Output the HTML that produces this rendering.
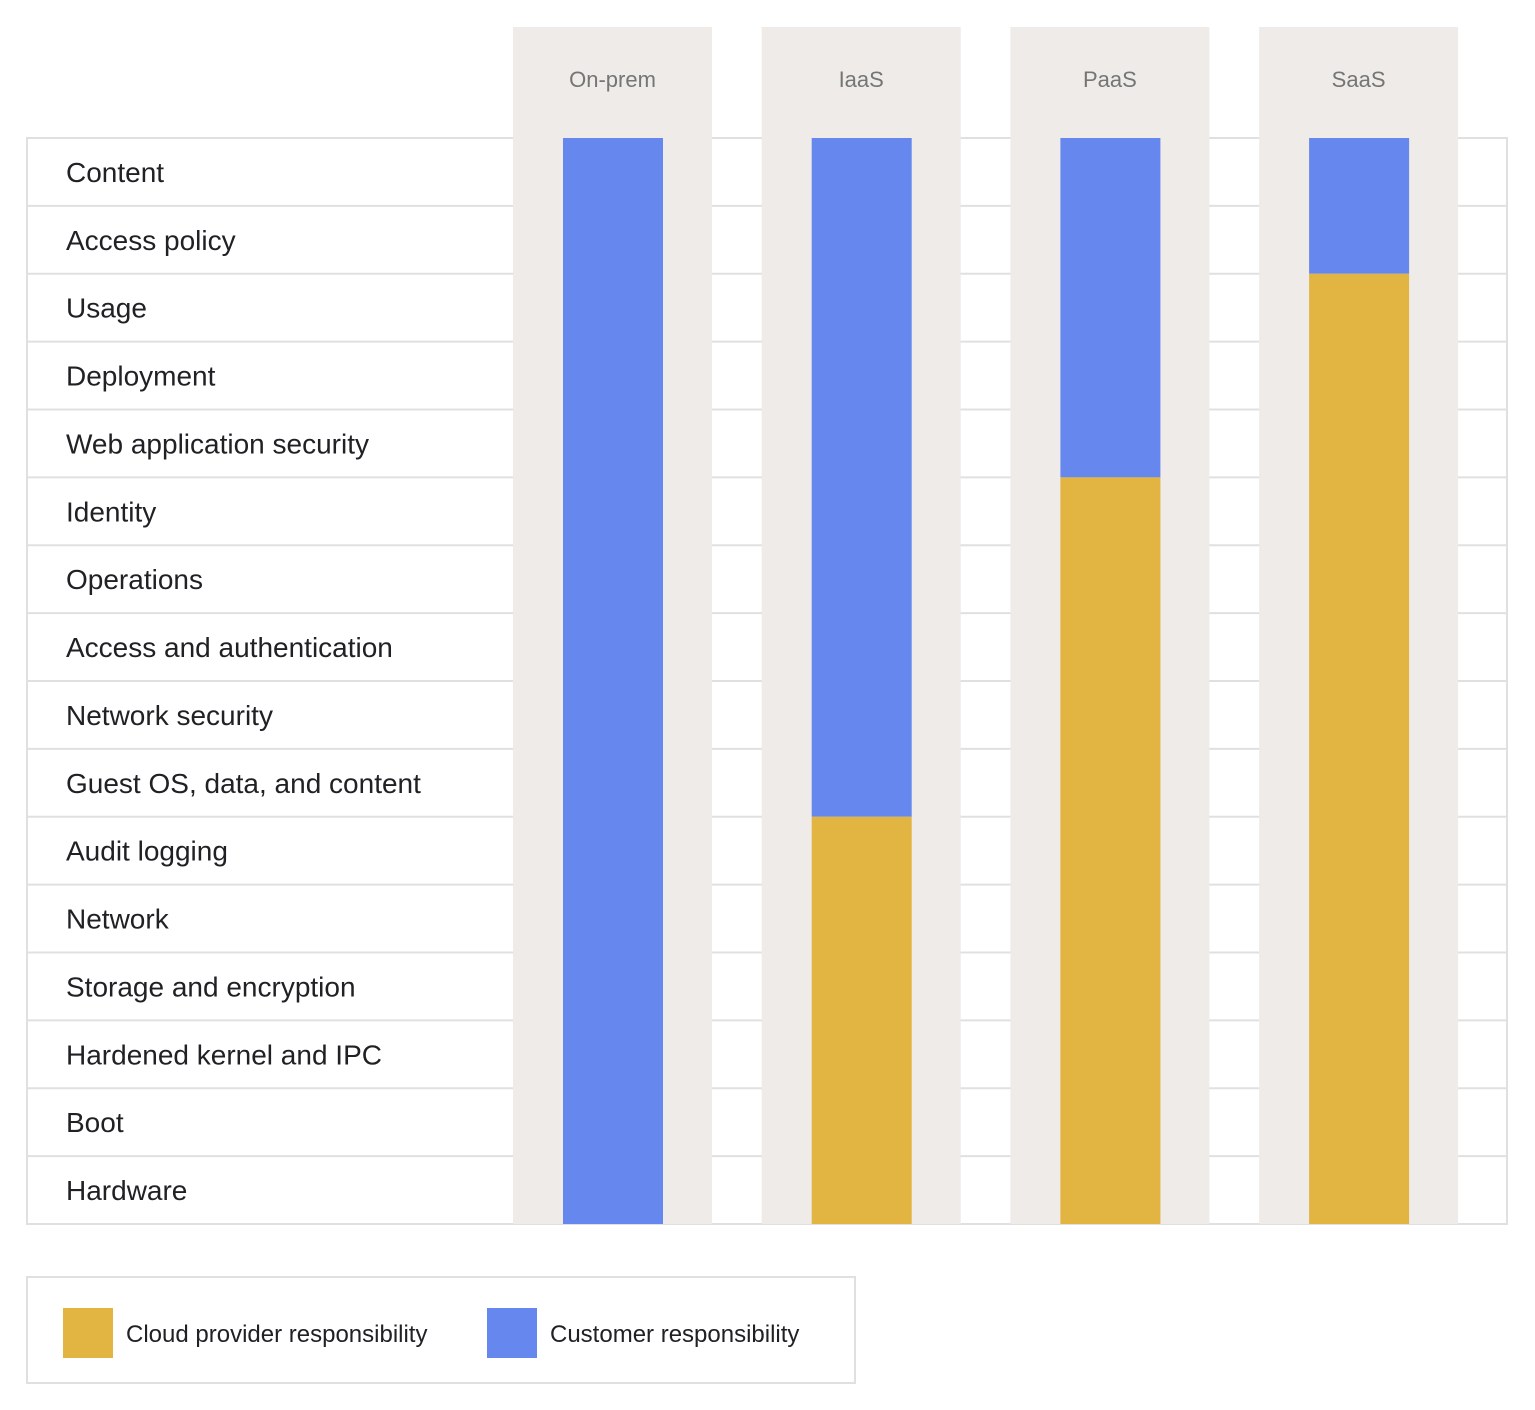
<!DOCTYPE html>
<html><head><meta charset="utf-8">
<style>
body{margin:0;background:#fff;font-family:"Liberation Sans",sans-serif;}
svg{display:block}
</style></head>
<body>
<svg id="chart" width="1535" height="1410" xmlns="http://www.w3.org/2000/svg"></svg>
<script>
const rows=["Content","Access policy","Usage","Deployment","Web application security","Identity","Operations","Access and authentication","Network security","Guest OS, data, and content","Audit logging","Network","Storage and encryption","Hardened kernel and IPC","Boot","Hardware"];
const models=["On-prem","IaaS","PaaS","SaaS"];
const customerRows=[16,10,5,2];
const BLUE="#6687ed",GOLD="#e2b441",BAND="#eeebe8",LINE="#e0e0e0";
const svgEl=document.getElementById('chart');
const NS="http://www.w3.org/2000/svg";
function mk(t,a,txt){const e=document.createElementNS(NS,t);for(const k in a)e.setAttribute(k,a[k]);if(txt!=null)e.textContent=txt;svgEl.appendChild(e);return e;}
const topY=138,bottomY=1224,leftX=27,rightX=1507;
const rowH=(bottomY-topY)/rows.length;
const yRow=i=>topY+i*rowH;
const bandX=i=>513+i*248.7;
let e;
e=mk('rect',{x:leftX,y:topY,width:rightX-leftX,height:bottomY-topY,fill:'none',stroke:LINE,'stroke-width':2});


for(let i=1;i<rows.length;i++){
  e=mk('line',{x1:leftX,x2:rightX,y1:yRow(i),y2:yRow(i),stroke:LINE,'stroke-width':2});
  
  
}
rows.forEach((r,i)=>{
  e=mk('text',{x:66,y:yRow(i)+rowH/2+10,'font-size':28,fill:'#202124'},r);
  
  
});
models.forEach((m,j)=>{
  const bx=bandX(j);
  e=mk('rect',{x:bx,y:27,width:199,height:bottomY-27,fill:BAND});
  
  
  e=mk('text',{x:bx+99.5,y:87,'font-size':22,fill:'#757575','text-anchor':'middle'},m);
  
  
  const c=customerRows[j];
  e=mk('rect',{x:bx+50,y:topY,width:100,height:yRow(c)-topY,fill:BLUE});
  
  
  if(c<rows.length){
    e=mk('rect',{x:bx+50,y:yRow(c),width:100,height:bottomY-yRow(c),fill:GOLD});
    
    
  }
});
e=mk('rect',{x:27,y:1277,width:828,height:106,fill:'#fff',stroke:LINE,'stroke-width':2});


e=mk('rect',{x:63,y:1308,width:50,height:50,fill:GOLD});


e=mk('text',{x:126,y:1342,'font-size':24,fill:'#202124'},'Cloud provider responsibility');


e=mk('rect',{x:487,y:1308,width:50,height:50,fill:BLUE});


e=mk('text',{x:550,y:1342,'font-size':24,fill:'#202124'},'Customer responsibility');


</script>
</body></html>
